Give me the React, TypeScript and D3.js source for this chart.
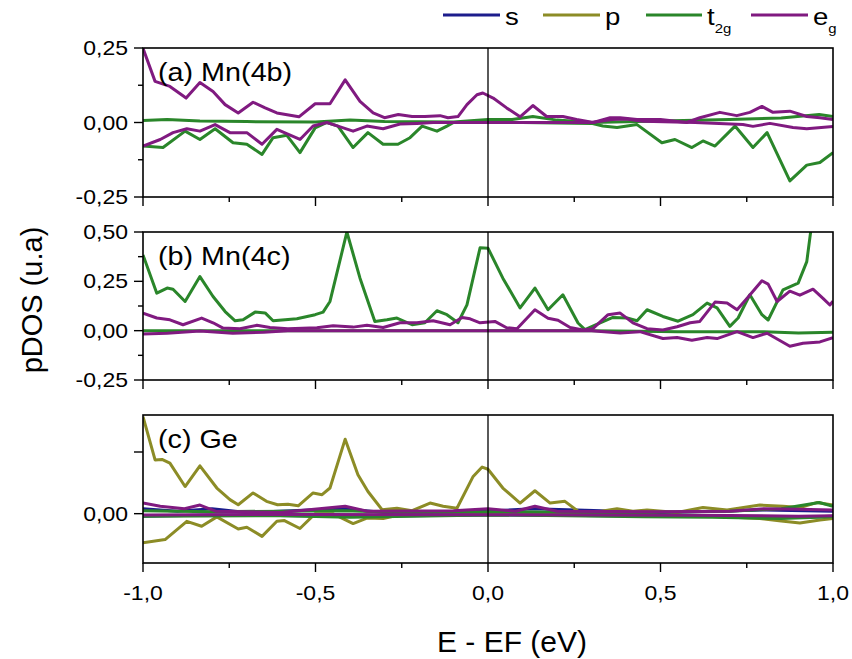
import * as d3 from "d3";

// pDOS series, [E - EF (eV), pDOS] pairs
type Pt = [number, number];

const COLORS: Record<string, string> = {
  s: "#1c1c8c",
  p: "#8c8c26",
  t2g: "#2a862a",
  eg: "#801a80",
};

// (a) Mn(4b)
const A_T2G_UP: Pt[] = [
  [-1, 0.007], [-0.93, 0.01], [-0.835, 0.005], [-0.7, 0.003], [-0.5, 0.002], [-0.4, 0.008],
  [-0.3, 0.003], [-0.1, 0.002], [0, 0.01], [0.07, 0.01], [0.13, 0.02], [0.2, 0.008],
  [0.3, 0.0], [0.5, 0.005], [0.7, 0.01], [0.85, 0.015], [0.96, 0.027], [1, 0.02],
];
const A_T2G_DN: Pt[] = [
  [-1, -0.079], [-0.942, -0.084], [-0.878, -0.029], [-0.835, -0.057], [-0.791, -0.021],
  [-0.739, -0.068], [-0.699, -0.073], [-0.655, -0.107], [-0.623, -0.051], [-0.583, -0.043],
  [-0.545, -0.101], [-0.501, -0.018], [-0.467, 0.0], [-0.435, -0.012], [-0.391, -0.084],
  [-0.348, -0.034], [-0.304, -0.073], [-0.261, -0.073], [-0.226, -0.051], [-0.191, -0.012],
  [-0.148, -0.029], [-0.119, -0.012], [-0.1, 0.0], [0.1, 0.0], [0.3, -0.003], [0.333, -0.012],
  [0.374, -0.017], [0.432, -0.007], [0.504, -0.068], [0.542, -0.057], [0.591, -0.084],
  [0.623, -0.062], [0.658, -0.079], [0.716, -0.012], [0.768, -0.084], [0.809, -0.034],
  [0.875, -0.196], [0.924, -0.143], [0.962, -0.134], [1, -0.101],
];
const A_EG_UP: Pt[] = [
  [-1, 0.249], [-0.965, 0.138], [-0.922, 0.121], [-0.875, 0.082], [-0.835, 0.134],
  [-0.797, 0.104], [-0.762, 0.06], [-0.724, 0.032], [-0.681, 0.068], [-0.646, 0.049],
  [-0.612, 0.032], [-0.548, 0.019], [-0.501, 0.063], [-0.458, 0.063], [-0.414, 0.143],
  [-0.371, 0.071], [-0.333, 0.032], [-0.3, 0.016], [-0.26, 0.027], [-0.22, 0.02],
  [-0.183, 0.02], [-0.139, 0.023], [-0.116, 0.016], [-0.087, 0.02], [-0.061, 0.06],
  [-0.032, 0.093], [-0.015, 0.099], [0.015, 0.082], [0.054, 0.049], [0.093, 0.019],
  [0.13, 0.057], [0.17, 0.02], [0.217, 0.02], [0.257, 0.01], [0.305, 0.0], [0.354, 0.016],
  [0.383, 0.016], [0.432, 0.01], [0.5, 0.01], [0.576, 0.0], [0.614, 0.016], [0.672, 0.034],
  [0.721, 0.023], [0.759, 0.034], [0.794, 0.054], [0.826, 0.034], [0.875, 0.038],
  [0.924, 0.02], [0.962, 0.016], [1, 0.01],
];
const A_EG_DN: Pt[] = [
  [-1, -0.079], [-0.95, -0.057], [-0.913, -0.034], [-0.873, -0.021], [-0.835, -0.029],
  [-0.791, -0.007], [-0.748, -0.034], [-0.699, -0.034], [-0.655, -0.073], [-0.612, -0.023],
  [-0.545, -0.057], [-0.507, -0.012], [-0.467, 0.0], [-0.435, -0.012], [-0.391, -0.029],
  [-0.351, -0.012], [-0.304, -0.021], [-0.255, -0.005], [-0.206, -0.003], [-0.159, 0.0],
  [0.3, 0.0], [0.36, 0.01], [0.4, 0.012], [0.45, 0.004], [0.6, 0.0], [0.739, -0.007],
  [0.768, -0.013], [0.817, -0.003], [0.884, -0.017], [0.924, -0.021], [1, -0.013],
];

// (b) Mn(4c)
const B_T2G_UP: Pt[] = [
  [-1, 0.384], [-0.96, 0.19], [-0.93, 0.216], [-0.913, 0.21], [-0.878, 0.148],
  [-0.835, 0.274], [-0.797, 0.173], [-0.762, 0.097], [-0.733, 0.05], [-0.71, 0.055],
  [-0.675, 0.094], [-0.646, 0.09], [-0.623, 0.05], [-0.588, 0.055], [-0.554, 0.06],
  [-0.501, 0.081], [-0.478, 0.094], [-0.458, 0.148], [-0.409, 0.5], [-0.371, 0.266],
  [-0.328, 0.047], [-0.293, 0.055], [-0.264, 0.064], [-0.22, 0.03], [-0.183, 0.04],
  [-0.148, 0.101], [-0.119, 0.081], [-0.087, 0.04], [-0.061, 0.131], [-0.023, 0.42],
  [0, 0.418], [0.043, 0.266], [0.093, 0.115], [0.136, 0.216], [0.174, 0.106],
  [0.217, 0.182], [0.261, 0.039], [0.281, 0.005], [0.325, 0.04], [0.362, 0.067],
  [0.403, 0.064], [0.432, 0.05], [0.461, 0.106], [0.507, 0.072], [0.551, 0.048],
  [0.594, 0.081], [0.635, 0.14], [0.664, 0.116], [0.701, 0.022], [0.725, 0.064],
  [0.759, 0.182], [0.794, 0.081], [0.812, 0.054], [0.855, 0.207], [0.899, 0.241],
  [0.924, 0.35], [0.95, 0.7], [1, 0.9],
];
const B_T2G_DN: Pt[] = [
  [-1, 0.0], [0.3, 0.0], [0.5, -0.004], [0.55, -0.005], [0.7, -0.006], [0.8, -0.006],
  [0.9, -0.012], [1, -0.008],
];
const B_EG_UP: Pt[] = [
  [-1, 0.089], [-0.96, 0.064], [-0.922, 0.055], [-0.884, 0.03], [-0.83, 0.064],
  [-0.797, 0.04], [-0.768, 0.013], [-0.719, 0.01], [-0.67, 0.027], [-0.632, 0.016],
  [-0.58, 0.01], [-0.496, 0.015], [-0.449, 0.025], [-0.391, 0.018], [-0.351, 0.027],
  [-0.304, 0.016], [-0.255, 0.04], [-0.206, 0.04], [-0.159, 0.05], [-0.11, 0.03],
  [-0.075, 0.067], [-0.052, 0.06], [-0.023, 0.04], [0.02, 0.047], [0.054, 0.015],
  [0.084, 0.01], [0.136, 0.106], [0.174, 0.063], [0.203, 0.053], [0.238, 0.016],
  [0.275, 0.003], [0.304, 0.01], [0.348, 0.081], [0.383, 0.089], [0.42, 0.04],
  [0.461, 0.01], [0.507, 0.003], [0.548, 0.02], [0.586, 0.04], [0.614, 0.047],
  [0.658, 0.145], [0.693, 0.14], [0.722, 0.106], [0.751, 0.164], [0.794, 0.253],
  [0.812, 0.236], [0.838, 0.148], [0.875, 0.2], [0.904, 0.18], [0.942, 0.21],
  [0.971, 0.164], [0.991, 0.13], [1, 0.15],
];
const B_EG_DN: Pt[] = [
  [-1, -0.017], [-0.93, -0.013], [-0.835, -0.002], [-0.74, -0.013], [-0.65, -0.008],
  [-0.58, 0.0], [0.3, 0.0], [0.383, -0.012], [0.44, -0.005], [0.507, -0.04],
  [0.548, -0.035], [0.591, -0.049], [0.635, -0.035], [0.664, -0.04], [0.722, -0.005],
  [0.768, -0.035], [0.809, -0.013], [0.875, -0.079], [0.913, -0.064], [0.962, -0.057],
  [1, -0.035],
];

// (c) Ge
const C_S_UP: Pt[] = [
  [-1, 0.02], [-0.9, 0.01], [-0.8, 0.02], [-0.7, 0.005], [-0.42, 0.02], [-0.3, 0.005],
  [0, 0.01], [0.13, 0.02], [0.5, 0.005], [0.8, 0.015], [1, 0.01],
];
const C_S_DN: Pt[] = [
  [-1, -0.01], [-0.8, -0.005], [-0.4, -0.01], [0, -0.005], [0.6, -0.01], [0.9, -0.015],
  [1, -0.01],
];
const C_P_UP: Pt[] = [
  [-1, 0.393], [-0.965, 0.218], [-0.945, 0.22], [-0.922, 0.205], [-0.878, 0.11],
  [-0.835, 0.194], [-0.786, 0.104], [-0.748, 0.057], [-0.724, 0.036], [-0.681, 0.084],
  [-0.642, 0.05], [-0.61, 0.036], [-0.58, 0.038], [-0.55, 0.032], [-0.507, 0.084],
  [-0.481, 0.077], [-0.458, 0.104], [-0.414, 0.302], [-0.377, 0.158], [-0.348, 0.09],
  [-0.307, 0.016], [-0.264, 0.022], [-0.22, 0.012], [-0.168, 0.043], [-0.13, 0.03],
  [-0.09, 0.022], [-0.043, 0.151], [-0.017, 0.189], [0, 0.18], [0.043, 0.104],
  [0.093, 0.043], [0.136, 0.093], [0.18, 0.043], [0.223, 0.05], [0.261, 0.01],
  [0.32, 0.008], [0.374, 0.02], [0.42, 0.01], [0.461, 0.015], [0.548, 0.005],
  [0.623, 0.025], [0.693, 0.015], [0.788, 0.035], [0.855, 0.03], [0.904, 0.025],
  [0.953, 0.045], [1, 0.035],
];
const C_P_DN: Pt[] = [
  [-1, -0.118], [-0.936, -0.105], [-0.873, -0.031], [-0.83, -0.051], [-0.786, -0.013],
  [-0.724, -0.062], [-0.699, -0.055], [-0.655, -0.092], [-0.612, -0.031], [-0.59, -0.028],
  [-0.545, -0.06], [-0.501, 0.0], [-0.45, 0.0], [-0.391, -0.04], [-0.351, -0.018],
  [-0.304, -0.02], [-0.255, -0.005], [-0.2, 0.0], [0.3, 0.0], [0.5, -0.008],
  [0.65, -0.01], [0.788, -0.02], [0.85, -0.03], [0.904, -0.038], [0.962, -0.026],
  [1, -0.02],
];
const C_T2G_UP: Pt[] = [
  [-1, 0.012], [-0.8, 0.008], [-0.42, 0.012], [-0.2, 0.004], [0, 0.008], [0.4, 0.004],
  [0.7, 0.01], [0.85, 0.02], [0.96, 0.045], [1, 0.03],
];
const C_T2G_DN: Pt[] = [
  [-1, -0.01], [-0.6, -0.008], [-0.4, -0.015], [0, -0.005], [0.45, -0.012],
  [0.65, -0.015], [0.85, -0.02], [1, -0.012],
];
const C_EG_UP: Pt[] = [
  [-1, 0.043], [-0.95, 0.03], [-0.88, 0.02], [-0.835, 0.035], [-0.79, 0.01],
  [-0.6, 0.005], [-0.414, 0.03], [-0.35, 0.01], [-0.1, 0.012], [0, 0.02], [0.08, 0.01],
  [0.136, 0.03], [0.2, 0.01], [0.5, 0.008], [0.7, 0.01], [0.8, 0.02], [0.9, 0.018],
  [1, 0.015],
];
const C_EG_DN: Pt[] = [
  [-1, -0.005], [-0.5, -0.003], [0, -0.004], [0.6, -0.006], [0.9, -0.01], [1, -0.008],
];

const X_MAJOR = [-1, -0.5, 0, 0.5, 1];
const X_MINOR = [-0.75, -0.25, 0.25, 0.75];

const PANELS = [
  {
    label: "(a) Mn(4b)", top: 48, bottom: 197, domain: [-0.25, 0.25],
    major: [-0.25, 0, 0.25], labeled: [-0.25, 0, 0.25], minor: [-0.125, 0.125],
    series: [["t2g", A_T2G_UP], ["t2g", A_T2G_DN], ["eg", A_EG_UP], ["eg", A_EG_DN]],
  },
  {
    label: "(b) Mn(4c)", top: 232, bottom: 380, domain: [-0.25, 0.5],
    major: [-0.25, 0, 0.25, 0.5], labeled: [-0.25, 0, 0.25, 0.5], minor: [-0.125, 0.125, 0.375],
    series: [["t2g", B_T2G_UP], ["t2g", B_T2G_DN], ["eg", B_EG_UP], ["eg", B_EG_DN]],
  },
  {
    label: "(c) Ge", top: 415, bottom: 563, domain: [-0.2, 0.4],
    major: [0, 0.25], labeled: [0], minor: [],
    series: [
      ["s", C_S_UP], ["s", C_S_DN], ["p", C_P_UP], ["p", C_P_DN],
      ["t2g", C_T2G_UP], ["t2g", C_T2G_DN], ["eg", C_EG_UP], ["eg", C_EG_DN],
    ],
  },
] as const;

const FONT = "'Liberation Sans', Arial, sans-serif";
const STRETCH = 1.15; // the original figure's text is a bit wide
const fmtY = (v: number) => d3.format(".2f")(v).replace(".", ",").replace("−", "-");
const fmtX = (v: number) => d3.format(".1f")(v).replace(".", ",").replace("−", "-");

const LEGEND = [
  { orb: "s", x1: 443, x2: 500, text: "s", sub: "" },
  { orb: "p", x1: 543, x2: 600, text: "p", sub: "" },
  { orb: "t2g", x1: 646, x2: 702, text: "t", sub: "2g" },
  { orb: "eg", x1: 751, x2: 808, text: "e", sub: "g" },
];

export default function App() {
  const x = d3.scaleLinear().domain([-1, 1]).range([143, 833]);

  return (
    <svg
      width={852}
      height={659}
      style={{ position: "absolute", left: 0, top: 0, background: "#fff" }}
      fontFamily={FONT}
    >
      <defs>
        {PANELS.map((p, i) => (
          <clipPath id={`clip${i}`} key={i}>
            <rect x={143} y={p.top} width={690} height={p.bottom - p.top} />
          </clipPath>
        ))}
      </defs>

      {/* legend */}
      {LEGEND.map((l) => (
        <g key={l.orb}>
          <line x1={l.x1} x2={l.x2} y1={15} y2={15} stroke={COLORS[l.orb]} strokeWidth={3} />
          <text transform={`translate(${l.x2 + 5},25) scale(${STRETCH},1)`} fontSize={24}>
            {l.text}
            {l.sub && (
              <tspan fontSize={13} dy={8}>
                {l.sub}
              </tspan>
            )}
          </text>
        </g>
      ))}

      {PANELS.map((p, i) => {
        const y = d3.scaleLinear().domain(p.domain as unknown as number[]).range([p.bottom, p.top]);
        const line = d3
          .line<Pt>()
          .x((d) => x(d[0]))
          .y((d) => y(d[1]));
        return (
          <g key={i}>
            <g clipPath={`url(#clip${i})`}>
              {p.series.map(([orb, data], j) => (
                <path
                  key={j}
                  d={line(data as Pt[]) ?? ""}
                  fill="none"
                  stroke={COLORS[orb]}
                  strokeWidth={3}
                  strokeLinejoin="round"
                />
              ))}
            </g>
            <line x1={x(0)} x2={x(0)} y1={p.top} y2={p.bottom} stroke="#000" strokeWidth={1.3} />
            <rect
              x={143}
              y={p.top}
              width={690}
              height={p.bottom - p.top}
              fill="none"
              stroke="#000"
              strokeWidth={1.6}
            />
            {p.major.map((v) => (
              <line key={`ym${v}`} x1={134} x2={143} y1={y(v)} y2={y(v)} stroke="#000" strokeWidth={1.4} />
            ))}
            {p.minor.map((v) => (
              <line key={`yn${v}`} x1={138} x2={143} y1={y(v)} y2={y(v)} stroke="#000" strokeWidth={1.4} />
            ))}
            {p.labeled.map((v) => (
              <text
                key={`yl${v}`}
                transform={`translate(128,${y(v)}) scale(${STRETCH},1)`}
                dy="0.35em"
                textAnchor="end"
                fontSize={20}
              >
                {fmtY(v)}
              </text>
            ))}
            {X_MAJOR.map((v) => (
              <line key={`xm${v}`} x1={x(v)} x2={x(v)} y1={p.bottom} y2={p.bottom + 9} stroke="#000" strokeWidth={1.4} />
            ))}
            {X_MINOR.map((v) => (
              <line key={`xn${v}`} x1={x(v)} x2={x(v)} y1={p.bottom} y2={p.bottom + 5} stroke="#000" strokeWidth={1.4} />
            ))}
            <text transform={`translate(158,${p.top + 33}) scale(${STRETCH},1)`} fontSize={25}>
              {p.label}
            </text>
          </g>
        );
      })}

      {X_MAJOR.map((v) => (
        <text
          key={`xl${v}`}
          transform={`translate(${x(v)},600) scale(${STRETCH},1)`}
          textAnchor="middle"
          fontSize={20}
        >
          {fmtX(v)}
        </text>
      ))}

      <text x={512} y={652} textAnchor="middle" fontSize={30}>
        E - EF (eV)
      </text>
      <text transform="translate(42,300) rotate(-90)" textAnchor="middle" fontSize={29}>
        pDOS (u.a)
      </text>
    </svg>
  );
}
